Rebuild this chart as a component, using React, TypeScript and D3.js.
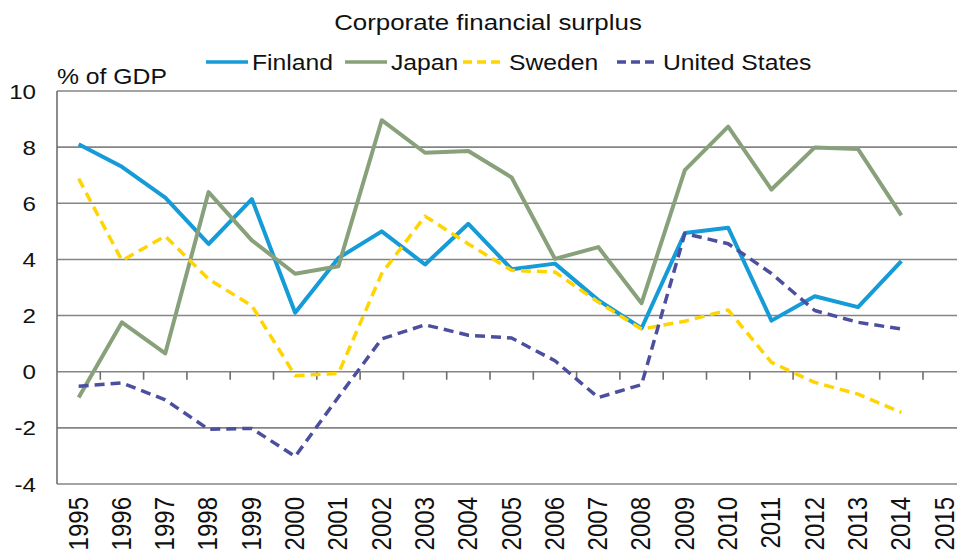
import * as d3 from "d3";

// Years on the x axis (2015 has no data)
const years = d3.range(1995, 2016).map(String);
const dataYears = years.slice(0, 20);

// % of GDP, 1995-2014
const finland = [8.1, 7.3, 6.2, 4.55, 6.15, 2.1, 4.05, 5.0, 3.82, 5.27, 3.65, 3.85, 2.55, 1.55, 4.94, 5.13, 1.82, 2.69, 2.3, 3.94];
const japan = [-0.92, 1.76, 0.65, 6.4, 4.68, 3.49, 3.76, 8.96, 7.8, 7.86, 6.92, 4.02, 4.44, 2.44, 7.18, 8.73, 6.49, 7.99, 7.93, 5.57];
const sweden = [6.88, 3.96, 4.83, 3.3, 2.35, -0.14, -0.06, 3.5, 5.54, 4.55, 3.61, 3.55, 2.48, 1.52, 1.8, 2.2, 0.33, -0.38, -0.8, -1.45];
const unitedStates = [-0.52, -0.4, -1.0, -2.05, -2.02, -3.02, -0.9, 1.17, 1.67, 1.3, 1.2, 0.39, -0.92, -0.46, 4.92, 4.56, 3.5, 2.18, 1.76, 1.52];

const yTicks = [-4, -2, 0, 2, 4, 6, 8, 10];

const series = [
  { name: "Finland", values: finland, color: "#159bd7", dash: null },
  { name: "Japan", values: japan, color: "#88a17b", dash: null },
  { name: "Sweden", values: sweden, color: "#ffd400", dash: "10,6" },
  { name: "United States", values: unitedStates, color: "#4b4f9e", dash: "10,6" },
];

const W = 957;
const H = 557;
const left = 57;
const top = 91;
const bottom = 484;
const stretch = 1.15; // the picture is a bit wider than tall
const font = "Liberation Sans, Arial, sans-serif";

export default function App() {
  // the plot runs past the right edge of the picture, as in the original crop
  const x = d3.scaleBand().domain(years).range([left, left + 21 * 43.3]).padding(0);
  const cx = (yr: string) => (x(yr) ?? 0) + x.bandwidth() / 2;
  const y = d3.scaleLinear().domain([-4, 10]).range([bottom, top]);

  const line = d3
    .line<number>()
    .x((_, i) => cx(dataYears[i]))
    .y((d) => y(d));

  const legendX = [206, 345, 463, 617];

  return (
    <svg width={W} height={H} style={{ position: "absolute", left: 0, top: 0 }} fontFamily={font}>
      <rect width={W} height={H} fill="#fff" />

      {/* title */}
      <text transform={`translate(488,30) scale(${stretch},1)`} textAnchor="middle" fontSize={22.5} fill="#111">
        Corporate financial surplus
      </text>

      {/* legend */}
      {series.map((s, i) => (
        <g key={s.name} transform={`translate(${legendX[i]},62)`}>
          <line x1={0} x2={42} y1={0} y2={0} stroke={s.color} strokeWidth={3.5} strokeDasharray={s.dash ? "9,5" : undefined} />
          <text transform={`translate(46,8) scale(${stretch},1)`} fontSize={21.5} fill="#111">
            {s.name}
          </text>
        </g>
      ))}

      <text transform={`translate(57,84) scale(${stretch},1)`} fontSize={21.5} fill="#111">
        % of GDP
      </text>

      {/* gridlines */}
      {yTicks.map((t) => (
        <line key={t} x1={left} x2={W} y1={y(t)} y2={y(t)} stroke="#858585" strokeWidth={1.6} />
      ))}
      <line x1={left} x2={left} y1={top} y2={bottom} stroke="#6e6e6e" strokeWidth={1.6} />

      {/* y tick labels */}
      {yTicks.map((t) => (
        <text key={t} transform={`translate(36,${y(t) + 7.5}) scale(${stretch},1)`} textAnchor="end" fontSize={21} fill="#111">
          {t}
        </text>
      ))}

      {/* x tick marks on the zero line */}
      {years.slice(1).map((yr) => (
        <line key={yr} x1={x(yr)} x2={x(yr)} y1={y(0)} y2={y(0) + 8} stroke="#6e6e6e" strokeWidth={1.6} />
      ))}

      {/* x labels */}
      {years.map((yr) => (
        <text
          key={yr}
          transform={`translate(${cx(yr) - 1},497) scale(${stretch},1) rotate(-90)`}
          textAnchor="end"
          dy="0.36em"
          fontSize={24}
          fill="#111"
        >
          {yr}
        </text>
      ))}

      {/* series */}
      {series.map((s) => (
        <path
          key={s.name}
          d={line(s.values) ?? ""}
          fill="none"
          stroke={s.color}
          strokeWidth={s.dash ? 3.5 : 4}
          strokeDasharray={s.dash ?? undefined}
          strokeLinejoin="round"
        />
      ))}
    </svg>
  );
}
